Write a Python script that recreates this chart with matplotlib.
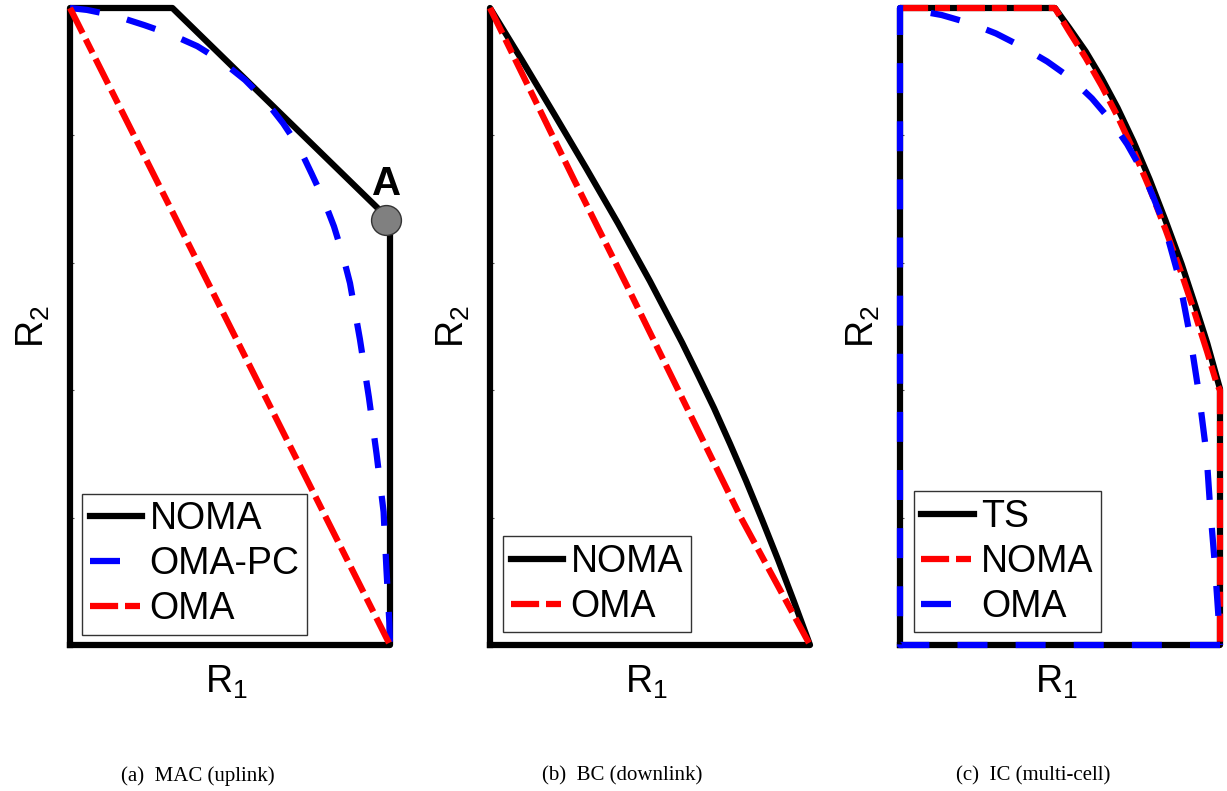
import matplotlib
matplotlib.use("Agg")
import matplotlib.pyplot as plt

plt.rcParams['font.family'] = ['Liberation Sans', 'DejaVu Sans']
plt.rcParams['mathtext.fontset'] = 'custom'
plt.rcParams['mathtext.rm'] = 'Liberation Sans'
plt.rcParams['mathtext.it'] = 'Liberation Sans'

# (a) MAC (uplink)
noma_a_r1 = [0, 0, 0.32, 1.0, 1.0, 0]
noma_a_r2 = [0, 1, 1, 0.667, 0, 0]
omapc_a_r1 = [0, 0.053, 0.14, 0.233, 0.318, 0.398, 0.475, 0.547, 0.61, 0.666, 0.715, 0.755, 0.792,
              0.825, 0.852, 0.875, 0.906, 0.934, 0.958, 0.980, 0.989, 0.998, 1.0]
omapc_a_r2 = [1, 0.997, 0.988, 0.973, 0.958, 0.940, 0.916, 0.887, 0.855, 0.819, 0.782, 0.740, 0.700,
              0.657, 0.613, 0.568, 0.480, 0.389, 0.300, 0.209, 0.118, 0.035, 0]
oma_a_r1 = [0, 1]
oma_a_r2 = [1, 0]
point_a = (0.988, 0.667)

# (b) BC (downlink)
noma_b_r1 = [0, 0, 0.1, 0.2, 0.3, 0.4, 0.5, 0.6, 0.65, 0.7, 0.75, 0.8, 0.85, 0.9, 0.95, 1.0, 0]
noma_b_r2 = [0, 1, 0.918, 0.834, 0.749, 0.662, 0.571, 0.475, 0.424, 0.372, 0.316, 0.258, 0.197,
             0.134, 0.068, 0, 0]
oma_b_r1 = [0, 0.262, 0.429, 0.607, 0.785, 1.0]
oma_b_r2 = [1, 0.731, 0.563, 0.381, 0.199, 0]

# (c) IC (multi-cell)
ts_c_r1 = [0, 0, 0.484, 0.53, 0.58, 0.63, 0.68, 0.73, 0.78, 0.83, 0.88, 0.92, 0.96, 1.0, 1.0, 0]
ts_c_r2 = [0, 1, 1, 0.968, 0.932, 0.890, 0.843, 0.790, 0.731, 0.666, 0.598, 0.537, 0.474, 0.402, 0, 0]
noma_c_r1 = [0, 0.484, 0.53, 0.58, 0.63, 0.68, 0.73, 0.78, 0.83, 0.88, 0.92, 0.96, 0.99, 1.0, 1.0]
noma_c_r2 = [1, 1, 0.962, 0.922, 0.878, 0.830, 0.776, 0.717, 0.652, 0.583, 0.523, 0.460, 0.41, 0.40, 0]
oma_c_r1 = [1, 0, 0, 0.042, 0.13, 0.219, 0.30, 0.382, 0.46, 0.533, 0.60, 0.661, 0.71, 0.755, 0.79,
            0.825, 0.872, 0.906, 0.934, 0.958, 0.969, 0.984, 0.997, 1.0]
oma_c_r2 = [0, 0, 1, 0.997, 0.989, 0.976, 0.960, 0.939, 0.916, 0.890, 0.858, 0.822, 0.786, 0.746, 0.705,
            0.661, 0.576, 0.486, 0.395, 0.299, 0.217, 0.126, 0.031, 0]

captions = ['(a)  MAC (uplink)', '(b)  BC (downlink)', '(c)  IC (multi-cell)']
caption_x = [198, 622, 1033]

LW = 4.5
RED_DASH = (4.5, 1.1, 2.4, 1.1)
BLUE_DASH = (4.8, 4.5)

W, H = 1227, 791
fig = plt.figure(figsize=(W / 100, H / 100), dpi=100)

def make_ax(left_px):
    ax = fig.add_axes([left_px / W, 1 - 645 / H, 320 / W, 637 / H])
    ax.set_xlim(0, 1)
    ax.set_ylim(0, 1)
    for s in ax.spines.values():
        s.set_visible(False)
    ax.set_xticks([])
    ax.set_yticks([0.2, 0.4, 0.6, 0.8])
    ax.set_yticklabels([])
    ax.tick_params(axis='y', direction='in', length=3, width=0.8, color='#555555')
    ax.set_xlabel(r'R$_1$', fontsize=27)
    ax.set_ylabel(r'R$_2$', fontsize=27)
    ax.xaxis.set_label_coords(0.49, -0.03)
    ax.yaxis.set_label_coords(-0.055, 0.5)
    return ax

def leg(ax, x0, y0):
    lg = ax.legend(loc='lower left', bbox_to_anchor=(x0, y0), borderaxespad=0,
                   fontsize=27, handlelength=1.4, handletextpad=0.2,
                   labelspacing=0.24, borderpad=0.2, fancybox=False,
                   framealpha=1, edgecolor='#333333')
    lg.get_frame().set_linewidth(1.0)
    return lg

# panel a
ax = make_ax(70)
ax.plot(noma_a_r1, noma_a_r2, color='black', lw=LW, clip_on=False, label='NOMA')
ax.plot(omapc_a_r1, omapc_a_r2, color='blue', lw=LW, dashes=BLUE_DASH, clip_on=False, label='OMA-PC')
ax.plot(oma_a_r1, oma_a_r2, color='red', lw=LW, dashes=RED_DASH, clip_on=False, label='OMA')
ax.plot([point_a[0]], [point_a[1]], 'o', ms=21.5, mfc='#808080', mec='#333333', mew=1, clip_on=False, zorder=5)
ax.text(point_a[0], point_a[1] + 0.027, 'A', fontsize=29, fontweight='bold', ha='center', va='bottom')
leg(ax, 0.0375, 0.0157)

# panel b
ax = make_ax(490)
ax.plot(noma_b_r1, noma_b_r2, color='black', lw=LW, clip_on=False, label='NOMA')
ax.plot(oma_b_r1, oma_b_r2, color='red', lw=LW, dashes=RED_DASH, clip_on=False, label='OMA')
leg(ax, 0.041, 0.02)

# panel c
ax = make_ax(900)
ax.plot(ts_c_r1, ts_c_r2, color='black', lw=LW, clip_on=False, label='TS')
ax.plot(noma_c_r1, noma_c_r2, color='red', lw=LW, dashes=RED_DASH, clip_on=False, label='NOMA')
ax.plot(oma_c_r1, oma_c_r2, color='blue', lw=LW, dashes=BLUE_DASH, clip_on=False, label='OMA')
leg(ax, 0.043, 0.02)

for cap, cx in zip(captions, caption_x):
    fig.text(cx / W, 1 - 776 / H, cap, ha='center', va='center',
             family='Liberation Serif', fontsize=15)

fig.savefig('out.png', dpi=100)
